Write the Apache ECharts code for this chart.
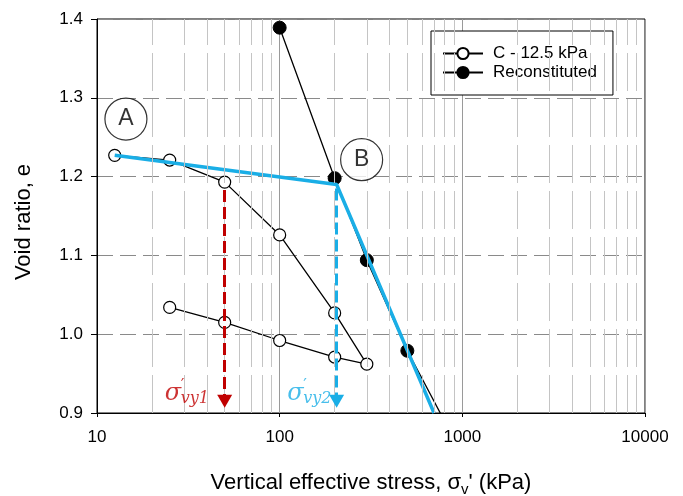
<!DOCTYPE html>
<html>
<head>
<meta charset="utf-8">
<script src="https://cdn.jsdelivr.net/npm/echarts@6/dist/echarts.min.js"></script>
<style>
  html, body { margin: 0; padding: 0; background: #fff; }
  #chart { width: 683px; height: 496px; }
</style>
</head>
<body>
<div id="chart"></div>
<script>
// Oedometer compression curves: void ratio vs vertical effective stress (log scale)
const stressC = [12.5, 25, 50, 100, 200, 300, 200, 100, 50, 25];
const voidC = [1.227, 1.221, 1.193, 1.126, 1.027, 0.962, 0.971, 0.992, 1.015, 1.034];

const stressR = [100, 200, 300, 500, 1000];
const voidR = [1.389, 1.198, 1.094, 0.979, 0.847];

// bilinear fit: A -> B -> normal compression
const fitStress = [12.5, 205, 700];
const fitVoid = [1.227, 1.190, 0.900];

// yield stresses (arrows drop from the curve to the axis)
const yieldStress = [50, 205];
const yieldTop = [1.183, 1.185];
const yieldBottom = 0.915;
const yieldSubs = ['vy1', 'vy2'];
const yieldLabelAt = [[23.5, 0.925], [110, 0.925]];

const xTickValues = [10, 100, 1000, 10000];

const RED = '#C00000';
const BLUE = '#1AAEE6';
const SANS = '"Liberation Sans", Arial, sans-serif';
const MATH = '"DejaVu Serif", serif';

// minor log-grid positions 2..9 in each decade
const minorGrid = [];
for (let d = 0; d < xTickValues.length - 1; d++) {
  for (let m = 2; m <= 9; m++) minorGrid.push(xTickValues[d] * m);
}

const zip = (xs, ys) => xs.map((x, i) => [x, ys[i]]);

// σ′ with subscript, built from three label pieces sharing one anchor
function sigmaPieces(at, sub, color) {
  const base = { show: true, position: 'right', distance: 0, color: color, fontFamily: MATH };
  return [
    { value: at, label: Object.assign({}, base, { formatter: 'σ', fontStyle: 'italic', fontSize: 24, offset: [0, 0] }) },
    { value: at, label: Object.assign({}, base, { formatter: '′', fontSize: 16, offset: [16, -7] }) },
    { value: at, label: Object.assign({}, base, { formatter: sub, fontStyle: 'italic', fontSize: 16, offset: [16, 6] }) }
  ];
}

const chart = echarts.init(document.getElementById('chart'), null, { renderer: 'canvas' });

chart.setOption({
  animation: false,
  backgroundColor: '#fff',
  grid: {
    left: 97, right: 38, top: 19, bottom: 83,
    outerBoundsMode: 'none',
    containLabel: false,
    show: true, borderColor: '#000', borderWidth: 1
  },
  legend: {
    data: [
      { name: 'C - 12.5 kPa' },
      { name: 'Reconstituted' }
    ],
    orient: 'vertical',
    left: 431, top: 31,
    padding: [13, 16, 13, 11],
    itemGap: 0,
    itemWidth: 40,
    itemHeight: 14,
    backgroundColor: '#fff',
    borderColor: '#000',
    borderWidth: 1,
    textStyle: { fontFamily: SANS, fontSize: 17, color: '#000', lineHeight: 19, padding: [0, 0, 0, 5] }
  },
  xAxis: {
    type: 'log',
    logBase: 10,
    min: 10,
    max: 10000,
    name: 'Vertical effective stress, σ{sub|v}\' (kPa)',
    nameLocation: 'middle',
    nameGap: 56,
    nameTextStyle: {
      fontFamily: SANS, fontSize: 22, color: '#000', lineHeight: 24,
      rich: { sub: { fontFamily: SANS, fontSize: 15, color: '#000', verticalAlign: 'bottom', lineHeight: 28 } }
    },
    axisLine: { onZero: false, lineStyle: { color: '#000', width: 1 } },
    axisTick: { show: true, length: 4, lineStyle: { color: '#000' } },
    axisLabel: { fontFamily: SANS, fontSize: 17, color: '#000', margin: 16, formatter: v => String(Math.round(v)) },
    splitLine: { show: true, lineStyle: { color: '#9a9a9a', width: 1 } }
  },
  yAxis: {
    type: 'value',
    min: 0.9,
    max: 1.4,
    interval: 0.1,
    name: 'Void ratio, e',
    nameLocation: 'middle',
    nameGap: 62,
    nameTextStyle: { fontFamily: SANS, fontSize: 22, color: '#000', padding: [0, 12, 0, 0] },
    axisLine: { show: true, onZero: false, lineStyle: { color: '#000', width: 1 } },
    axisTick: { show: true, length: 6, lineStyle: { color: '#000' } },
    axisLabel: {
      fontFamily: SANS, fontSize: 17, color: '#000', margin: 14,
      formatter: v => v.toFixed(1)
    },
    splitLine: { show: true, lineStyle: { color: '#8a8a8a', width: 1, type: [16, 7] } }
  },
  series: [
    {
      name: 'minor-grid',
      type: 'line',
      data: [],
      silent: true,
      z: 1,
      markLine: {
        silent: true,
        symbol: ['none', 'none'],
        label: { show: false },
        lineStyle: { color: '#c4c4c4', width: 1, type: [38, 8] },
        data: minorGrid.map(v => ({ xAxis: v }))
      }
    },
    {
      name: 'Reconstituted',
      type: 'line',
      data: zip(stressR, voidR),
      symbol: 'circle',
      symbolSize: 13,
      itemStyle: { color: '#000', borderColor: '#000', borderWidth: 1 },
      lineStyle: { color: '#000', width: 1.3 },
      z: 3
    },
    {
      name: 'C - 12.5 kPa',
      type: 'line',
      data: zip(stressC, voidC),
      symbol: 'circle',
      symbolSize: 12,
      itemStyle: { color: '#fff', borderColor: '#000', borderWidth: 1.2 },
      lineStyle: { color: '#000', width: 1.3 },
      z: 3
    },
    {
      name: 'bilinear',
      type: 'line',
      data: zip(fitStress, fitVoid),
      symbol: 'none',
      lineStyle: { color: BLUE, width: 3.5 },
      z: 4
    },
    {
      name: 'yield',
      type: 'line',
      data: [],
      z: 5,
      markLine: {
        silent: true,
        symbol: ['none', 'triangle'],
        symbolSize: [15, 13],
        label: { show: false },
        data: yieldStress.map((s, i) => [
          { coord: [s, yieldTop[i]], lineStyle: { color: i === 0 ? RED : BLUE, width: 3, type: [12, 5] }, itemStyle: { color: i === 0 ? RED : BLUE } },
          { coord: [s, yieldBottom] }
        ])
      }
    },
    {
      name: 'yield-labels',
      type: 'scatter',
      symbolSize: 0,
      silent: true,
      z: 6,
      data: sigmaPieces(yieldLabelAt[0], yieldSubs[0], RED).concat(sigmaPieces(yieldLabelAt[1], yieldSubs[1], BLUE))
    },
    {
      name: 'points',
      type: 'scatter',
      symbol: 'circle',
      symbolSize: 42,
      silent: true,
      z: 6,
      itemStyle: { color: '#fff', borderColor: '#000', borderWidth: 1.2 },
      label: { show: true, position: 'inside', fontFamily: SANS, fontSize: 23, color: '#000', formatter: p => p.data.tag },
      data: [
        { value: [14.4, 1.273], tag: 'A' },
        { value: [281, 1.2215], tag: 'B' }
      ]
    }
  ]
});
</script>
</body>
</html>
